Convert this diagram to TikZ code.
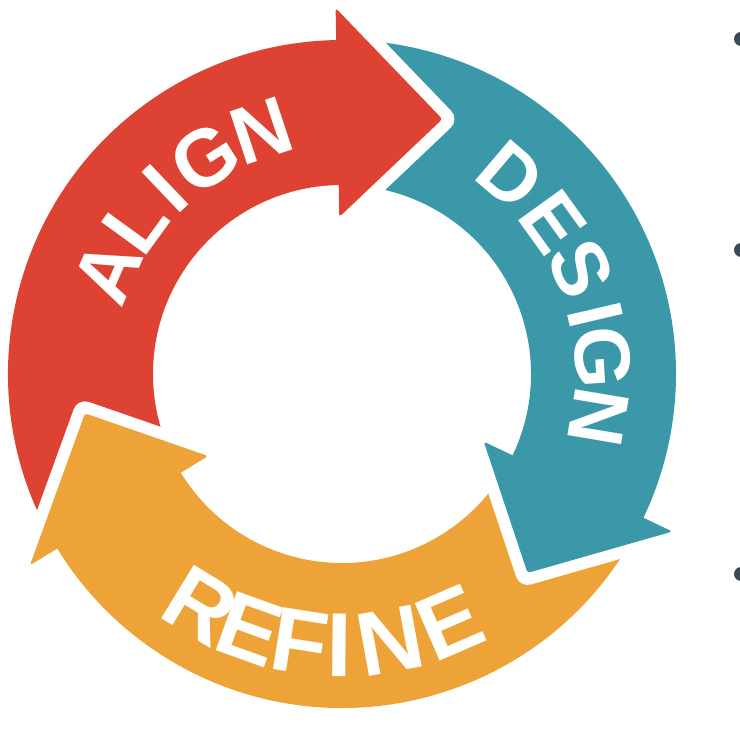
\documentclass[tikz,border=0pt]{standalone}
\usepackage{fontspec}
\setsansfont{Liberation Sans}
\usepackage{xcolor}
\usetikzlibrary{calc}
\definecolor{alignred}{HTML}{DD4232}
\definecolor{designteal}{HTML}{3A98A9}
\definecolor{refineorange}{HTML}{EDA338}
\definecolor{bulletgray}{HTML}{3C4A55}

\begin{document}
\begin{tikzpicture}[x=1pt, y=1pt,
    cutband/.style={draw=white, line width=24pt, line join=round},
    ringletter/.style={text=white, inner sep=0pt, text depth=0pt, font=\sffamily\bfseries\fontsize{#1}{#1}\selectfont}]
          \useasboundingbox (-342,-377) rectangle (397,374);
          \coordinate (hub) at (0,0);
          \foreach \col/\from/\base in {alignred/211.5/91, designteal/91/-25.5, refineorange/334.5/211.5}
            \fill[\col] ($(hub)+(\from-1:334)$) arc[start angle=\from-1, end angle=\base-1, radius=334]
              -- ($(hub)+(\base-1:189)$) arc[start angle=\base-1, end angle=\from-1, radius=189] -- cycle;
          \foreach \col/\base/\tip/\reach in {alignred/91/68.5/274, designteal/-25.5/-47/272, refineorange/211.5/188.7/260}{
            \draw[cutband] ($(hub)+(\base:366)$) -- ($(hub)+(\tip:\reach)$) -- ($(hub)+(\base:157)$);
            \fill[\col, rounded corners=3pt] ($(hub)+(\base:366)$) -- ($(hub)+(\tip:\reach)$) -- ($(hub)+(\base:157)$) -- cycle;
          }
          \foreach \ch/\ang [count=\k] in {A/156.5, L/144, I/133.6, G/122.3, N/108.3}
            \node[ringletter=81, text height=58pt, rotate=\ang-90] (align\k) at ($(hub)+(\ang:257)$) {\ch};
          \foreach \ch/\ang [count=\k] in {D/49.6, E/35.8, S/23.8, I/13.2, G/3.6, N/-9.6}
            \node[ringletter=79, text height=57pt, rotate=\ang-90] (design\k) at ($(hub)+(\ang:262)$) {\ch};
          \foreach \ch/\ang [count=\k] in {R/238.6, E/250.2, F/261, I/269.4, N/280.3, E/293.4}
            \node[ringletter=91, text height=65pt, rotate=\ang+90] (refine\k) at ($(hub)+(\ang:270)$) {\ch};
          \foreach \y [count=\k] in {335,124,-200}
            \fill[bulletgray] (399,\y) circle[radius=7];
        \end{tikzpicture}
\end{document}
